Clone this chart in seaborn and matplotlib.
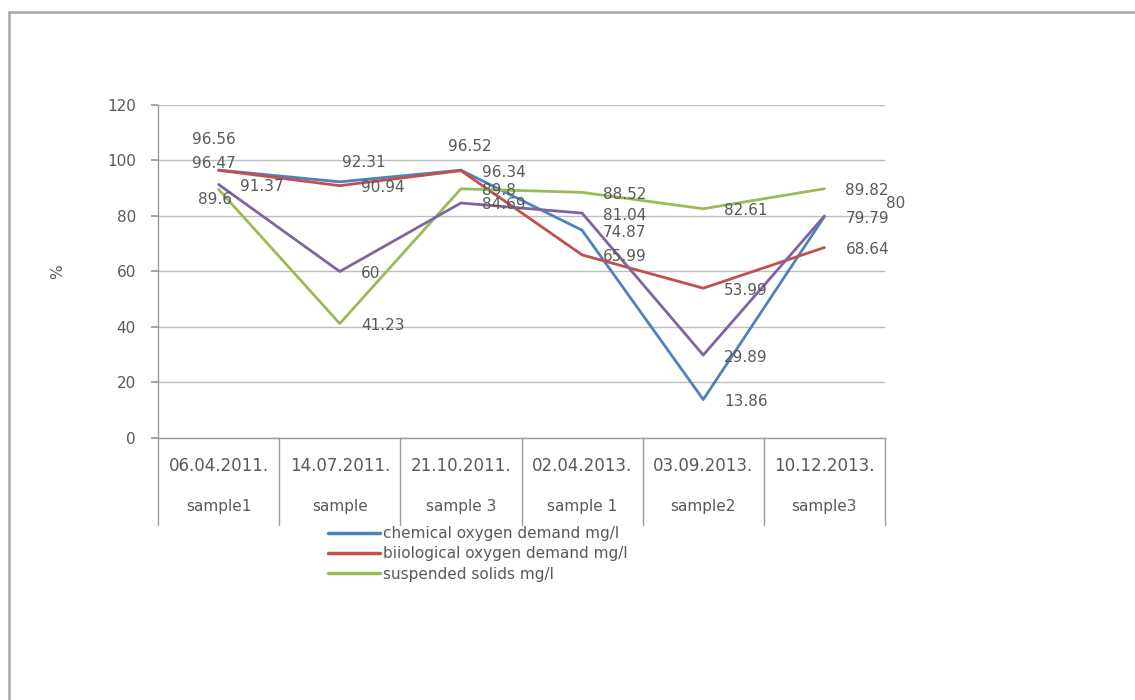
import numpy as np
import pandas as pd
import matplotlib
matplotlib.use("Agg")
import matplotlib.pyplot as plt
import matplotlib.transforms as mtransforms
from matplotlib.lines import Line2D
import seaborn as sns

# Sampling dates and sample names (two-row category axis)
dates = ["06.04.2011.", "14.07.2011.", "21.10.2011.", "02.04.2013.", "03.09.2013.", "10.12.2013."]
samples = ["sample1", "sample", "sample 3", "sample 1", "sample2", "sample3"]

# Removal efficiency, %
cod = [96.56, 92.31, 96.52, 74.87, 13.86, 79.79]
bod = [96.47, 90.94, 96.34, 65.99, 53.99, 68.64]
ss = [89.6, 41.23, 89.8, 88.52, 82.61, 89.82]
other = [91.37, 60, 84.69, 81.04, 29.89, 80]

series_names = ["chemical oxygen demand mg/l", "biiological oxygen demand mg/l",
                "suspended solids mg/l", "other"]
series_values = [cod, bod, ss, other]
colors = ["#4F81BD", "#C0504D", "#9BBB59", "#8064A2"]

df = pd.DataFrame({
    "idx": np.tile(np.arange(len(dates)), len(series_names)),
    "value": np.concatenate(series_values),
    "series": np.repeat(series_names, len(dates)),
})

sns.set_theme(style="white")
plt.rcParams["font.family"] = ["DejaVu Sans"]
text_gray = "#595959"
grid_gray = "#BDBDBD"
axis_gray = "#9A9A9A"

fig = plt.figure(figsize=(11.35, 7.0), dpi=100)
fig.patch.set_facecolor("white")
ax = fig.add_axes([158 / 1135, 1 - 438 / 700, (885 - 158) / 1135, (438 - 105) / 700])

sns.lineplot(data=df, x="idx", y="value", hue="series", hue_order=series_names,
             palette=dict(zip(series_names, colors)), linewidth=2.0,
             legend=False, ax=ax, sort=False)

ax.set_xlim(-0.5, len(dates) - 0.5)
ax.set_ylim(0, 120)
ax.set_yticks(np.arange(0, 121, 20))
ax.set_xticks([])
ax.set_xlabel("")
ax.set_ylabel("%", color=text_gray, fontsize=11, labelpad=30)
ax.yaxis.grid(True, color=grid_gray, linewidth=1.0)
ax.set_axisbelow(True)
ax.tick_params(axis="y", which="major", length=5, color=axis_gray, labelcolor=text_gray,
               labelsize=11, pad=11, direction="out", left=True)
for side in ("top", "right"):
    ax.spines[side].set_visible(False)
for side in ("left", "bottom"):
    ax.spines[side].set_color(axis_gray)
    ax.spines[side].set_linewidth(1.0)

# Data labels, mostly placed to the right of each point
label_offsets = {
    (0, 0): (-27, 31), (1, 0): (-27, 7), (2, 0): (-21, -10),
    (0, 1): (2, 19), (0, 2): (-13, 24), (3, 5): (62, 12),
}
for s, vals in enumerate(series_values):
    for i, v in enumerate(vals):
        dx, dy = label_offsets.get((s, i), (21, -2))
        ax.annotate(f"{v:g}", xy=(i, v), xytext=(dx, dy), textcoords="offset pixels",
                    ha="left", va="center", fontsize=11, color=text_gray,
                    annotation_clip=False)

# Category table under the plot: cell borders, dates and sample names
blend = mtransforms.blended_transform_factory(ax.transData, ax.transAxes)
for b in np.arange(-0.5, len(dates), 1.0):
    ax.plot([b, b], [0, -87 / 333], transform=blend, clip_on=False,
            color=axis_gray, linewidth=1.0)
for i, (d, smp) in enumerate(zip(dates, samples)):
    ax.text(i, -28 / 333, d, transform=blend, ha="center", va="center",
            fontsize=12, color=text_gray)
    ax.text(i, -69 / 333, smp, transform=blend, ha="center", va="center",
            fontsize=11, color=text_gray)

# Legend for the three named parameters
handles = [Line2D([0], [0], color=c, linewidth=2.5) for c in colors[:3]]
fig.legend(handles, series_names[:3], loc="upper left",
           bbox_to_anchor=(328 / 1135, 1 - 526 / 700), frameon=False,
           fontsize=11, handlelength=3.4, handletextpad=0.2, labelspacing=0.35,
           borderpad=0, borderaxespad=0, labelcolor=text_gray)

# Outer frame (top and left edges)
fig.add_artist(Line2D([9 / 1135, 1.0], [1 - 12 / 700] * 2, transform=fig.transFigure,
                      color="#A8A8A8", linewidth=1.8))
fig.add_artist(Line2D([9 / 1135] * 2, [0.0, 1 - 12 / 700], transform=fig.transFigure,
                      color="#A8A8A8", linewidth=1.8))

fig.savefig("out.png", dpi=100, facecolor="white")
